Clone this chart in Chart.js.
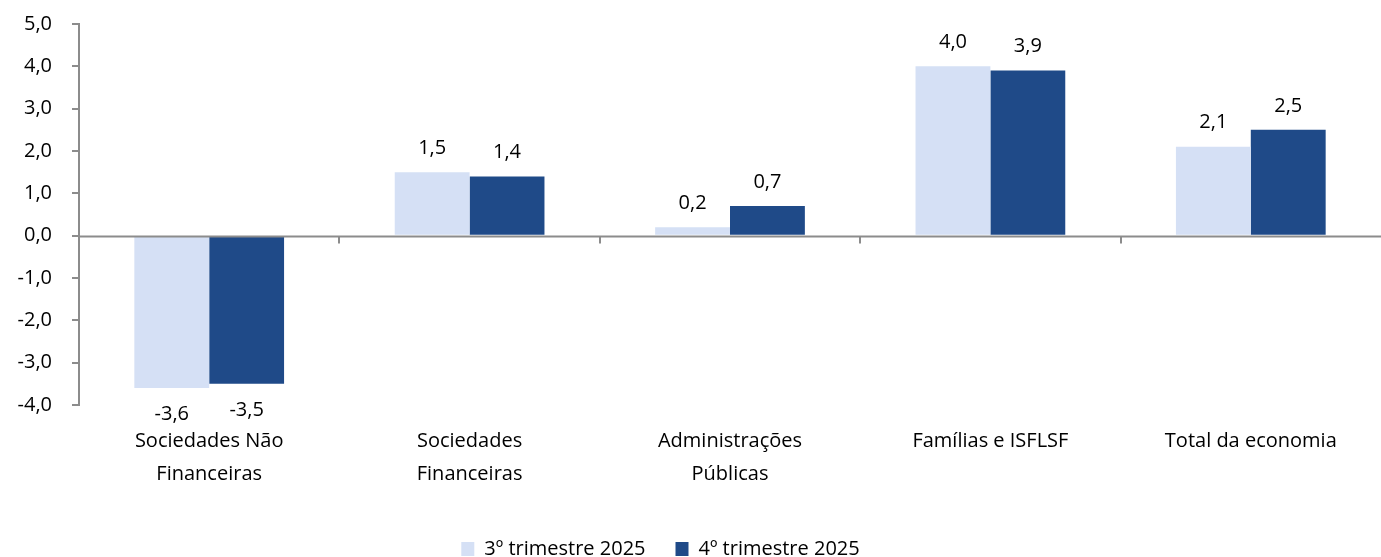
<!DOCTYPE html>
<html>
<head>
<meta charset="utf-8">
<script src="https://cdn.jsdelivr.net/npm/chart.js@4"></script>
<style>
  html, body { margin: 0; padding: 0; background: #fff; }
  #wrap { width: 1381px; height: 557px; }
</style>
</head>
<body>
<div id="wrap"><canvas id="myBarChart"></canvas></div>
<script>
const categories = [
  ['Sociedades Não', 'Financeiras'],
  ['Sociedades', 'Financeiras'],
  ['Administrações', 'Públicas'],
  'Famílias e ISFLSF',
  'Total da economia'
];
const q3Values = [-3.6, 1.5, 0.2, 4.0, 2.1];
const q4Values = [-3.5, 1.4, 0.7, 3.9, 2.5];
const seriesNames = ['3º trimestre 2025', '4º trimestre 2025'];

const FONT = '"Open Sans"';
const AXIS_GREY = '#8c8c8c';
const fmt = v => v.toFixed(1).replace('.', ',');

// zero line with category tick marks, like the excel original
const zeroAxis = {
  id: 'zeroAxis',
  afterDatasetsDraw(chart) {
    const {ctx, chartArea, scales: {x, y}} = chart;
    const y0 = Math.round(y.getPixelForValue(0)) + 0.5;
    ctx.save();
    ctx.strokeStyle = AXIS_GREY;
    ctx.lineWidth = 2;
    ctx.beginPath();
    ctx.moveTo(chartArea.left, y0);
    ctx.lineTo(chartArea.right, y0);
    for (let i = 1; i < categories.length; i++) {
      const bx = Math.round((x.getPixelForValue(i - 1) + x.getPixelForValue(i)) / 2);
      ctx.moveTo(bx, y0);
      ctx.lineTo(bx, y0 + 7);
    }
    ctx.stroke();
    ctx.restore();
  }
};

const valueLabels = {
  id: 'valueLabels',
  afterDatasetsDraw(chart) {
    const {ctx} = chart;
    ctx.save();
    ctx.font = '20px ' + FONT;
    ctx.fillStyle = '#000';
    ctx.textAlign = 'center';
    chart.data.datasets.forEach((ds, di) => {
      chart.getDatasetMeta(di).data.forEach((bar, i) => {
        const v = ds.data[i];
        if (v >= 0) {
          ctx.textBaseline = 'bottom';
          ctx.fillText(fmt(v), bar.x, bar.y - 14);
        } else {
          ctx.textBaseline = 'top';
          ctx.fillText(fmt(v), bar.x, bar.y + 16);
        }
      });
    });
    ctx.restore();
  }
};

// legend sits lower and a bit more to the left than chart.js would put it
const legendShift = {
  id: 'legendShift',
  afterLayout(chart) {
    const lg = chart.legend;
    const h = lg.height;
    lg.top = 509;
    lg.bottom = lg.top + h;
    lg.left -= 30;
    lg.right -= 30;
  }
};

const ctx = document.getElementById('myBarChart').getContext('2d');
const data = {
  labels: categories,
  datasets: [
    {
      label: seriesNames[0],
      data: q3Values,
      backgroundColor: '#d5e0f5',
      borderWidth: 0
    },
    {
      label: seriesNames[1],
      data: q4Values,
      backgroundColor: '#1f4a88',
      borderWidth: 0
    }
  ]
};
const config = {
  type: 'bar',
  data: data,
  plugins: [zeroAxis, valueLabels, legendShift],
  options: {
    responsive: true,
    maintainAspectRatio: false,
    animation: false,
    datasets: {
      bar: { barPercentage: 1, categoryPercentage: 0.575 }
    },
    layout: { padding: { top: 24, right: 0, bottom: 0, left: 0 } },
    scales: {
      x: {
        grid: { display: false, drawTicks: false },
        border: { display: false },
        ticks: {
          color: '#000',
          font: { family: FONT, size: 20, lineHeight: 1.65 },
          padding: 20,
          maxRotation: 0,
          autoSkip: false
        },
        afterFit(scale) { scale.height = 92; }
      },
      y: {
        min: -4,
        max: 5,
        ticks: {
          stepSize: 1,
          color: '#000',
          font: { family: FONT, size: 20 },
          padding: 20,
          callback: v => fmt(v)
        },
        grid: { drawOnChartArea: false, tickLength: 7, color: AXIS_GREY, lineWidth: 2 },
        border: { color: AXIS_GREY, width: 2 },
        afterFit(scale) {
          scale.width = 79;
          scale.paddingTop = 0;
          scale.paddingBottom = 0;
        }
      }
    },
    plugins: {
      legend: {
        position: 'bottom',
        labels: {
          color: '#000',
          font: { family: FONT, size: 20 },
          boxWidth: 13,
          boxHeight: 14,
          padding: 30
        }
      },
      tooltip: { enabled: false }
    }
  }
};
const myChart = new Chart(ctx, config);
</script>
</body>
</html>
